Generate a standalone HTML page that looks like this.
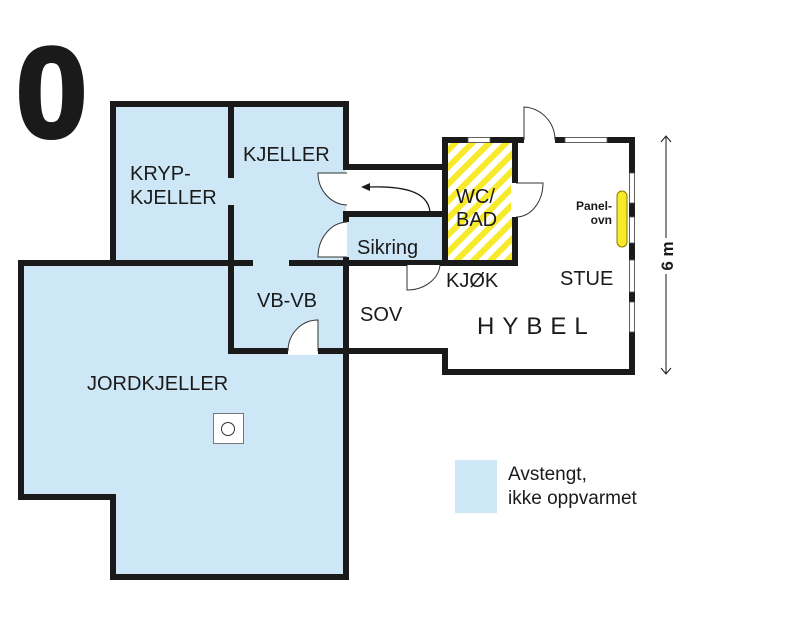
<!DOCTYPE html>
<html><head><meta charset="utf-8"><style>
html,body{margin:0;padding:0;background:#fff;}
svg{display:block;}
text{font-family:"Liberation Sans",sans-serif;fill:#1a1a1a;}
</style></head><body>
<svg width="800" height="631" viewBox="0 0 800 631" xmlns="http://www.w3.org/2000/svg">
<defs>
<pattern id="hatch" patternUnits="userSpaceOnUse" width="12" height="12" patternTransform="rotate(45)">
<rect width="12" height="12" fill="#fff"/>
<rect width="6" height="12" fill="#f7ea2a"/>
</pattern>
</defs>
<text x="16" y="137" font-size="128" font-weight="bold" stroke="#1a1a1a" stroke-width="4" style="font-family:'Liberation Sans',sans-serif">0</text>

<!-- blue areas -->
<path d="M113,104 H346 V577 H113 V497 H21 V263 H113 Z" fill="#cde7f6"/>
<rect x="347" y="214" width="98" height="48" fill="#cde7f6"/>
<!-- WC hatch -->
<rect x="445" y="140" width="70" height="122" fill="url(#hatch)"/>

<g fill="none" stroke="#1a1a1a" stroke-width="6" stroke-linecap="square">
<path d="M113,263 V104 H346 V167"/>
<path d="M346,214 V262"/>
<path d="M346,262 V351"/>
<path d="M346,351 V577 H113 V497 H21 V263 H250"/>
<path d="M292,263 H515"/>
<path d="M231,104 V175"/>
<path d="M231,208 V351 H346"/>
<path d="M346,167 H445"/>
<path d="M346,214 H445"/>
<path d="M346,351 H445 V372 H632 V140 H445 V263"/>
<path d="M515,140 V263"/>
</g>
<rect x="524" y="136" width="31" height="8" fill="#fff"/>
<g fill="#fff" stroke="#555" stroke-width="0.8">
<rect x="468" y="137.5" width="22" height="5"/>
<rect x="565" y="137.5" width="42" height="5"/>
<rect x="629.5" y="173" width="5" height="30"/>
<rect x="629.5" y="217" width="5" height="26"/>
<rect x="629.5" y="260" width="5" height="32"/>
<rect x="629.5" y="302" width="5" height="30"/>
</g>
<rect x="342" y="173" width="8" height="32" fill="#fff"/>
<rect x="342" y="222" width="8" height="35" fill="#cde7f6"/>
<rect x="288" y="347" width="30" height="8" fill="#fff"/>
<rect x="511" y="183" width="8" height="34" fill="#fff"/>

<g fill="#fff" stroke="#333" stroke-width="1">
<path d="M524,140 V107 A33,33 0 0 1 555,140"/>
<path d="M347,173 H318 A30,32 0 0 0 347,205"/>
<path d="M347,257 H318 A30,35 0 0 1 347,222"/>
<path d="M318,351 V320 A30,31 0 0 0 288,351"/>
<path d="M516,183 H543 A27,34 0 0 1 516,217"/>
<path d="M407,265 V290 A33,27 0 0 0 440,265"/>
</g>
<path d="M430,212 C428,190 400,186 368,187" fill="none" stroke="#1a1a1a" stroke-width="1.3"/>
<path d="M361,187 L370,183 L370,191 Z" fill="#1a1a1a"/>

<rect x="617" y="191" width="10" height="56" rx="5" fill="#f7ea2a" stroke="#8a7a00" stroke-width="1"/>

<rect x="213.5" y="413.5" width="30" height="30" fill="#fff" stroke="#777" stroke-width="1"/>
<circle cx="228" cy="429" r="6.5" fill="#fff" stroke="#333" stroke-width="1"/>

<line x1="666" y1="137" x2="666" y2="238" stroke="#1a1a1a" stroke-width="1"/>
<line x1="666" y1="274" x2="666" y2="373" stroke="#1a1a1a" stroke-width="1"/>
<path d="M661,142 L666,136 L671,142 M661,368 L666,374 L671,368" fill="none" stroke="#1a1a1a" stroke-width="1"/>
<text transform="translate(673,256) rotate(-90)" font-size="17" font-weight="bold" text-anchor="middle">6 m</text>

<rect x="455" y="460" width="42" height="53" fill="#cde7f6"/>
<text x="508" y="480" font-size="19">Avstengt,</text>
<text x="508" y="504" font-size="19">ikke oppvarmet</text>

<g font-size="20">
<text x="243" y="161">KJELLER</text>
<text x="130" y="180">KRYP-</text>
<text x="130" y="204">KJELLER</text>
<text x="257" y="307">VB-VB</text>
<text x="87" y="390">JORDKJELLER</text>
<text x="357" y="254">Sikring</text>
<text x="456" y="203">WC/</text>
<text x="456" y="226">BAD</text>
<text x="446" y="287">KJØK</text>
<text x="560" y="285">STUE</text>
<text x="360" y="321">SOV</text>
</g>
<text x="477" y="334" font-size="24" letter-spacing="8">HYBEL</text>
<text x="612" y="210" font-size="12" font-weight="bold" text-anchor="end">Panel-</text>
<text x="612" y="224" font-size="12" font-weight="bold" text-anchor="end">ovn</text>
</svg>
</body></html>
